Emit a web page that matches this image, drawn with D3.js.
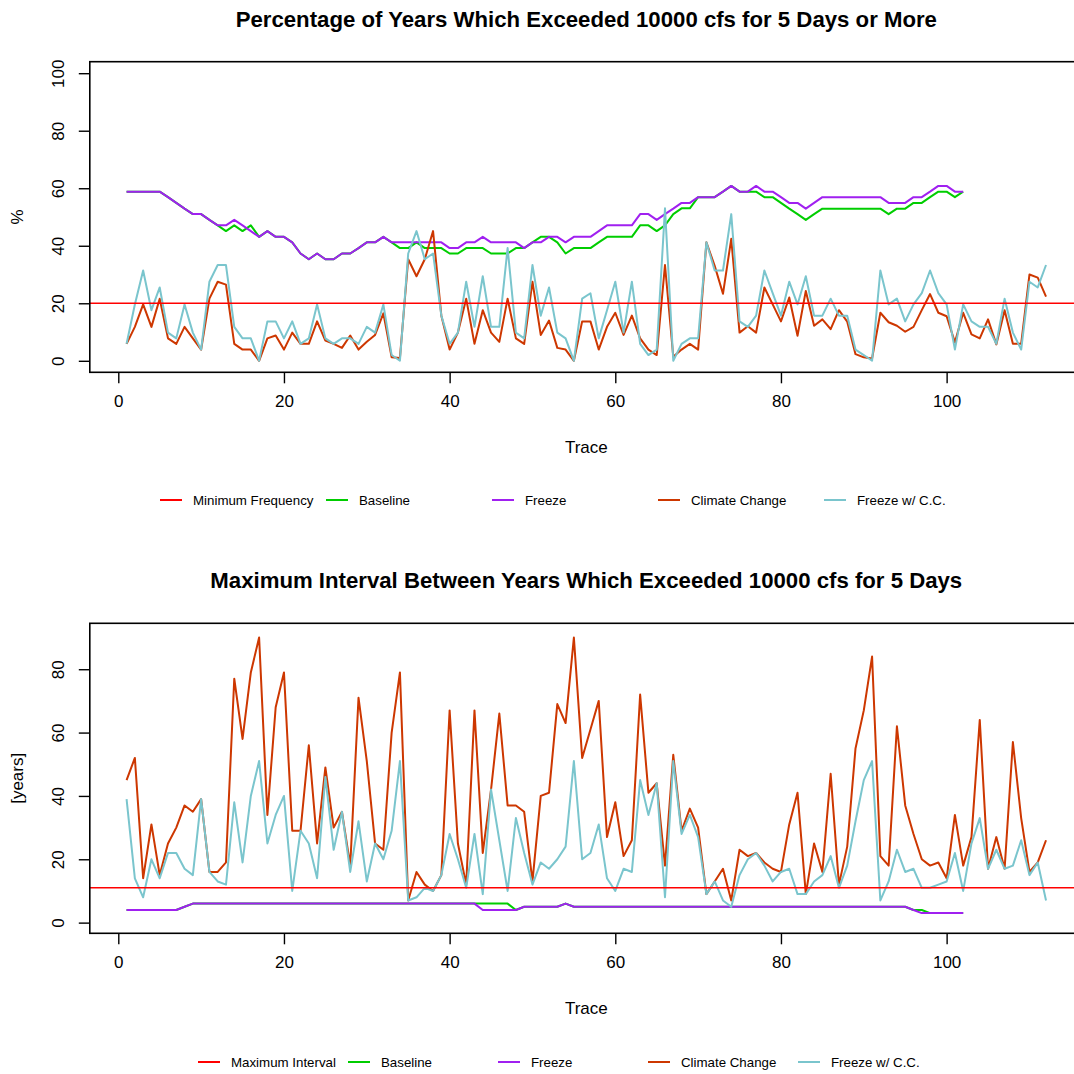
<!DOCTYPE html>
<html><head><meta charset="utf-8">
<script src="https://cdn.jsdelivr.net/npm/d3@7"></script>
<style>body{margin:0;background:#fff}svg{display:block}text{font-family:"Liberation Sans",Arial,Helvetica,sans-serif}</style>
</head><body>
<script>
// ---------- Data ----------
const pctBaseline = [58.8,58.8,58.8,58.8,58.8,56.9,54.9,52.9,51,51,49,47.1,45.1,47.1,45.1,47.1,43.1,45.1,43.1,43.1,41.2,37.3,35.3,37.3,35.3,35.3,37.3,37.3,39.2,41.2,41.2,43.1,41.2,39.2,39.2,41.2,39.2,39.2,39.2,37.3,37.3,39.2,39.2,39.2,37.3,37.3,37.3,39.2,39.2,41.2,43.1,43.1,41.2,37.3,39.2,39.2,39.2,41.2,43.1,43.1,43.1,43.1,47.1,47.1,45.1,47.1,51,53,53,56.9,56.9,56.9,58.8,60.8,58.8,58.8,58.8,56.9,56.9,54.9,52.9,51,49,51,52.9,52.9,52.9,52.9,52.9,52.9,52.9,52.9,51,52.9,52.9,54.9,54.9,56.9,58.8,58.8,56.9,58.8];
const pctFreeze = [58.8,58.8,58.8,58.8,58.8,56.9,54.9,52.9,51,51,49,47.1,47.1,49,47.1,45.1,43.1,45.1,43.1,43.1,41.2,37.3,35.3,37.3,35.3,35.3,37.3,37.3,39.2,41.2,41.2,43.1,41.2,41.2,41.2,41.2,41.2,41.2,41.2,39.2,39.2,41.2,41.2,43.1,41.2,41.2,41.2,41.2,39.2,41.2,41.2,43.1,43.1,41.2,43.1,43.1,43.1,45.1,47.1,47.1,47.1,47.1,51,51,49,51,52.9,54.9,54.9,56.9,56.9,56.9,58.8,60.8,58.8,58.8,60.8,58.8,58.8,56.9,54.9,54.9,52.9,54.9,56.9,56.9,56.9,56.9,56.9,56.9,56.9,56.9,54.9,54.9,54.9,56.9,56.9,58.8,60.8,60.8,58.8,58.8];
const pctClimate = [5.9,11.8,19.6,11.8,21.6,7.8,5.9,11.8,7.8,3.9,21.6,27.5,26.5,5.9,3.9,3.9,0,7.8,8.8,3.9,9.8,5.9,5.9,13.7,7,5.9,4.5,8.8,3.9,6.6,9,16.5,1.2,1,35.3,29.4,35.3,45.1,15.7,3.9,9.8,21.6,5.9,17.6,9.8,6.6,21.6,7.8,5.9,27.5,9,14,4.5,3.9,0,13.7,13.7,3.9,11.8,16.7,9,15.7,7.8,3.9,2,33.3,1.4,3.9,5.9,3.9,41.2,33,23.3,42.4,9.8,12,9.8,25.5,19.6,13.7,22,8.7,24.3,12.2,14.4,11,17.6,13.6,2.3,1.2,0.8,16.7,13.4,12.2,10.1,11.8,17.6,23.2,16.7,15.5,6.4,16.7,9.2,7.8,14.4,5.7,17.6,5.9,5.9,30,28.9,22.3];
const pctFreezeCC = [5.9,19.6,31.4,17.6,25.5,9.8,7.8,19.6,9.8,3.9,27.5,33.3,33.3,11.8,7.8,7.8,0,13.7,13.7,7.8,13.7,5.9,7.8,19.6,7.8,5.9,7.8,7.8,5.9,11.8,9.8,19.6,2,0,37.3,45.1,35.3,37.3,15.7,5.9,9.8,27.5,11.8,29.4,11.8,11.8,39.2,9.8,7.8,33.3,15.7,25.5,9.8,7.8,0,21.6,23.5,7.8,17.6,27.5,9.8,27.5,5.9,2,3.9,53,0,5.9,7.8,7.8,41.2,31.4,31.4,51,13.7,11.8,15.7,31.4,23.5,15.7,27.5,19.6,29.4,15.7,15.7,21.6,15.7,15.7,3.9,2,0,31.4,19.6,21.6,13.7,19.6,23.5,31.4,23.5,19.6,3.9,19.6,13.7,11.8,11.8,5.9,21.6,9.8,3.9,27.5,25.5,33.3];
const minFrequency = 20;

const intBaseline = [4,4,4,4,4,4,4,5,6,6,6,6,6,6,6,6,6,6,6,6,6,6,6,6,6,6,6,6,6,6,6,6,6,6,6,6,6,6,6,6,6,6,6,6,6,6,6,4,5,5,5,5,5,6,5,5,5,5,5,5,5,5,5,5,5,5,5,5,5,5,5,5,5,5,5,5,5,5,5,5,5,5,5,5,5,5,5,5,5,5,5,5,5,5,5,4,4,3,3,3,3,3];
const intFreeze = [4,4,4,4,4,4,4,5,6,6,6,6,6,6,6,6,6,6,6,6,6,6,6,6,6,6,6,6,6,6,6,6,6,6,6,6,6,6,6,6,6,6,6,4,4,4,4,4,5,5,5,5,5,6,5,5,5,5,5,5,5,5,5,5,5,5,5,5,5,5,5,5,5,5,5,5,5,5,5,5,5,5,5,5,5,5,5,5,5,5,5,5,5,5,5,4,3,3,3,3,3,3];
const intClimate = [45,52,14,31,15,25,30,37,35,39,16,16,19,77,58,79,90,34,68,79,29,29,56,25,49,30,35,18,71,51,25,23,60,79,7,16,12,10,15,67,25,12,67,22,42,66,37,37,35,13,40,41,69,63,90,52,61,70,27,38,21,26,72,41,44,18,53,29,36,30,9,13,17,7,23,21,22,19,17,16,31,41,9,25,16,47,12,24,55,67,84,21,18,62,37,28,20,18,19,14,34,18,27,64,17,27,17,57,33,16,19,26];
const intFreezeCC = [39,14,8,20,14,22,22,17,15,39,16,13,12,38,19,40,51,25,34,40,10,29,25,14,46,23,35,16,32,13,25,20,29,51,7,8,11,10,15,28,20,11,28,9,42,26,10,33,22,12,19,17,20,24,51,20,22,31,14,10,17,16,45,34,44,8,51,28,34,27,9,13,7,5,15,20,22,18,13,16,17,9,9,13,15,21,11,18,32,45,51,7,13,23,16,17,11,11,12,13,22,10,25,33,17,23,17,18,26,15,19,7];
const maxInterval = 11;

const xTicks = [0,20,40,60,80,100];
const pctTicks = [0,20,40,60,80,100];
const intTicks = [0,20,40,60,80];

const legendTop = ["Minimum Frequency","Baseline","Freeze","Climate Change","Freeze w/ C.C."];
const legendBottom = ["Maximum Interval","Baseline","Freeze","Climate Change","Freeze w/ C.C."];
const colors = ["#FF0000","#00CD00","#A020F0","#CD3700","#7AC5CD"];

// ---------- Drawing ----------
const W = 1074, H = 1074;
const svg = d3.select("body").append("svg").attr("width", W).attr("height", H);

function panel(cfg) {
  const g = svg.append("g");
  const x = d3.scaleLinear().domain([-3.44, 116.44]).range([89.8, 1082.8]);
  const y = d3.scaleLinear().domain(cfg.yDomain).range([cfg.bottom, cfg.top]);

  // title
  g.append("text").attr("x", 586.3).attr("y", cfg.top - 35).attr("text-anchor", "middle")
    .attr("font-size", 22.2).attr("font-weight", "bold").text(cfg.title);

  // x axis
  const xa = g.append("g").attr("transform", `translate(0,${cfg.bottom})`)
    .call(d3.axisBottom(x).tickValues(xTicks).tickSize(11).tickPadding(12).tickFormat(d3.format("d")));
  xa.select(".domain").remove();
  xa.selectAll("line").attr("stroke", "#000").attr("stroke-width", 1.4);
  xa.selectAll("text").attr("font-size", 17).attr("fill", "#000").attr("font-family", '"Liberation Sans",Arial,sans-serif');

  // y axis
  const ya = g.append("g").attr("transform", `translate(89.8,0)`)
    .call(d3.axisLeft(y).tickValues(cfg.yTicks).tickSize(11).tickFormat(d3.format("d")));
  ya.select(".domain").remove();
  ya.selectAll("line").attr("stroke", "#000").attr("stroke-width", 1.4);
  ya.selectAll("text").attr("font-size", 17).attr("fill", "#000").attr("font-family", '"Liberation Sans",Arial,sans-serif')
    .attr("text-anchor", "middle").attr("dy", null).attr("x", null)
    .attr("transform", d => `translate(-25.8,0) rotate(-90)`);

  // axis titles
  g.append("text").attr("x", 586.3).attr("y", cfg.bottom + 81).attr("text-anchor", "middle")
    .attr("font-size", 17).text("Trace");
  g.append("text").attr("transform", `translate(23,${(cfg.top + cfg.bottom) / 2}) rotate(-90)`)
    .attr("text-anchor", "middle").attr("font-size", 17).text(cfg.ylab);

  // series
  const line = d3.line().x((d, i) => x(i + 1)).y(d => y(d));
  cfg.series.forEach(s => {
    g.append("path").datum(s.values).attr("d", line).attr("fill", "none")
      .attr("stroke", s.color).attr("stroke-width", 2).attr("stroke-linejoin", "round");
  });
  // reference line
  g.append("line").attr("x1", 89.8).attr("x2", 1082.8).attr("y1", y(cfg.ref)).attr("y2", y(cfg.ref))
    .attr("stroke", colors[0]).attr("stroke-width", 1.6);

  // box
  g.append("rect").attr("x", 89.8).attr("y", cfg.top).attr("width", 1082.8 - 89.8).attr("height", cfg.bottom - cfg.top)
    .attr("fill", "none").attr("stroke", "#000").attr("stroke-width", 1.6);

  // legend
  const lg = g.append("g");
  cfg.legend.forEach((name, k) => {
    const lx = cfg.legX + k * cfg.legStep;
    lg.append("line").attr("x1", lx).attr("x2", lx + 22).attr("y1", cfg.legY).attr("y2", cfg.legY)
      .attr("stroke", colors[k]).attr("stroke-width", 2);
    lg.append("text").attr("x", lx + 33).attr("y", cfg.legY + 4.5).attr("font-size", 13.3).text(name);
  });
}

panel({
  title: "Percentage of Years Which Exceeded 10000 cfs for 5 Days or More",
  top: 61.7, bottom: 372.3, yDomain: [-4, 104], yTicks: pctTicks, ylab: "%",
  ref: minFrequency,
  series: [
    {values: pctBaseline, color: colors[1]},
    {values: pctFreeze, color: colors[2]},
    {values: pctClimate, color: colors[3]},
    {values: pctFreezeCC, color: colors[4]}
  ],
  legend: legendTop, legX: 160, legStep: 166, legY: 500
});

panel({
  title: "Maximum Interval Between Years Which Exceeded 10000 cfs for 5 Days",
  top: 623.3, bottom: 933.3, yDomain: [-3.37, 94.5], yTicks: intTicks, ylab: "[years]",
  ref: maxInterval,
  series: [
    {values: intBaseline, color: colors[1]},
    {values: intFreeze, color: colors[2]},
    {values: intClimate, color: colors[3]},
    {values: intFreezeCC, color: colors[4]}
  ],
  legend: legendBottom, legX: 198, legStep: 150, legY: 1062
});
</script>
</body></html>
